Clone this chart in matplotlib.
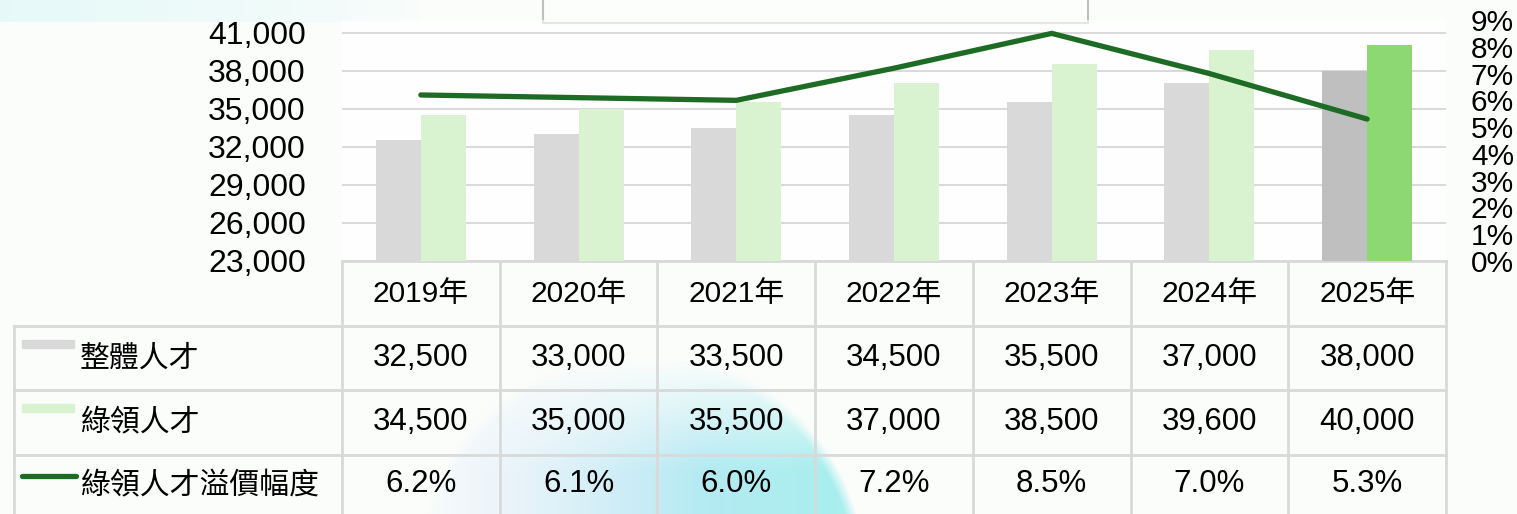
import numpy as np
import matplotlib.pyplot as plt
from matplotlib.patches import Rectangle

# data
years = ['2019年', '2020年', '2021年', '2022年', '2023年', '2024年', '2025年']
overall = [32500, 33000, 33500, 34500, 35500, 37000, 38000]
green = [34500, 35000, 35500, 37000, 38500, 39600, 40000]
premium = [6.2, 6.1, 6.0, 7.2, 8.5, 7.0, 5.3]
row_names = ['整體人才', '綠領人才', '綠領人才溢價幅度']

W, H = 1517, 514
num_font = 'Liberation Sans'
cjk = ['Noto Sans CJK TC', 'DejaVu Sans']
mix = ['Liberation Sans', 'Noto Sans CJK TC']

fig = plt.figure(figsize=(W / 100, H / 100), dpi=100)
fig.patch.set_facecolor('#fbfdfb')

# background with soft blob
bg = fig.add_axes([0, 0, 1, 1], zorder=0)
yy, xx = np.mgrid[0:H, 0:W]
img = np.ones((H, W, 3)) * np.array([251, 253, 251]) / 255
top = np.clip(1 - xx / 420, 0, 1) ** 0.6 * (yy < 22)
img = img * (1 - top[..., None] * 0.7) + np.array([222, 248, 248]) / 255 * top[..., None] * 0.7
d = np.hypot(xx - 640, yy - 575)
blob = np.clip((225 - d) / 12, 0, 1) * np.clip((xx - 380) / 320, 0, 1) ** 1.2 * np.clip((yy - 360) / 110, 0, 1)
t = np.clip((xx - 450) / 400, 0, 1)[..., None]
col = (1 - t) * np.array([198, 222, 250]) / 255 + t * np.array([158, 238, 236]) / 255
img = img * (1 - blob[..., None] * 0.9) + col * blob[..., None] * 0.9
bg.imshow(img, extent=(0, W, H, 0), aspect='auto')
bg.set_xlim(0, W)
bg.set_ylim(H, 0)
bg.axis('off')

# plot area (pixel layout)
x0, x1, ytop, ybot = 342, 1446, 20, 261
ax = fig.add_axes([x0 / W, 1 - ybot / H, (x1 - x0) / W, (ybot - ytop) / H], zorder=2)
ax.patch.set_facecolor('white')
ax.patch.set_alpha(0.6)
x = np.arange(len(years))
bw = 0.285
gray_c = ['#d9d9d9'] * 6 + ['#bfbfbf']
green_c = ['#d9f2d0'] * 6 + ['#8dd873']
ax.bar(x - bw / 2, overall, bw, color=gray_c, zorder=2)
ax.bar(x + bw / 2, green, bw, color=green_c, zorder=2)
ax.set_xlim(-0.5, len(years) - 0.5)
ax.set_ylim(23000, 42000)
ax.set_yticks(range(23000, 41001, 3000))
ax.set_yticklabels([f'{v:,}' for v in range(23000, 41001, 3000)], fontsize=23, family=num_font)
ax.yaxis.grid(True, color='#d9d9d9', lw=1.4, zorder=0)
ax.set_axisbelow(True)
ax.set_xticks([])
ax.tick_params(axis='y', length=0, pad=26)
for s in ax.spines.values():
    s.set_visible(False)

ax2 = ax.twinx()
ax2.set_zorder(3)
ax2.patch.set_visible(False)
ax2.plot(x, np.array(premium) / 100, color='#1d6b24', lw=3.8, solid_capstyle='round', solid_joinstyle='miter')
ax2.set_ylim(0, 0.09)
ax2.set_yticks(np.arange(0, 0.091, 0.01))
ax2.set_yticklabels([f'{i}%' for i in range(10)], fontsize=21.5, family=num_font)
ax2.tick_params(axis='y', length=0, pad=18)
for s in ax2.spines.values():
    s.set_visible(False)

# data table drawn below the plot
tb = fig.add_axes([0, 0, 1, 1], zorder=1)
tb.set_xlim(0, W)
tb.set_ylim(H, 0)
tb.axis('off')
tb.patch.set_visible(False)
lc = '#d9d9d9'
rows_y = [261, 326, 390, 455, 520]
cw = (x1 - x0) / len(years)
cols_x = [x0 + i * cw for i in range(len(years) + 1)]
lab_x = 14
tb.plot([x0, x1], [rows_y[0]] * 2, color=lc, lw=2)
for yv in rows_y[1:4]:
    tb.plot([lab_x, x1], [yv, yv], color=lc, lw=2)
for xv in cols_x:
    tb.plot([xv, xv], [rows_y[0], H], color=lc, lw=2)
tb.plot([lab_x, lab_x], [rows_y[1], H], color=lc, lw=2)

for i, yr in enumerate(years):
    cx = (cols_x[i] + cols_x[i + 1]) / 2
    tb.text(cx, (rows_y[0] + rows_y[1]) / 2, yr, ha='center', va='center', fontsize=21.5, family=mix)
    tb.text(cx, (rows_y[1] + rows_y[2]) / 2, f'{overall[i]:,}', ha='center', va='center', fontsize=22.5, family=num_font)
    tb.text(cx, (rows_y[2] + rows_y[3]) / 2, f'{green[i]:,}', ha='center', va='center', fontsize=22.5, family=num_font)
    tb.text(cx, (rows_y[3] + 516) / 2 - 1, f'{premium[i]:.1f}%', ha='center', va='center', fontsize=22.5, family=num_font)

# legend keys in row labels
tb.add_patch(Rectangle((22, 340), 52, 8, color='#d9d9d9'))
tb.add_patch(Rectangle((22, 404), 52, 8, color='#d9f2d0'))
tb.plot([22, 76], [476, 476], color='#1d6b24', lw=3.8, solid_capstyle='round')
label_y = [358, 422, 486]
for name, yv in zip(row_names, label_y):
    tb.text(80, yv, name, ha='left', va='center', fontsize=21.5, family=cjk)

# title box (cut off at top)
tb.add_patch(Rectangle((543, -20), 545, 43, facecolor='#fcfefc', edgecolor='#bfbfbf', lw=1.5))

fig.savefig('out.png', dpi=100, facecolor=fig.get_facecolor())
